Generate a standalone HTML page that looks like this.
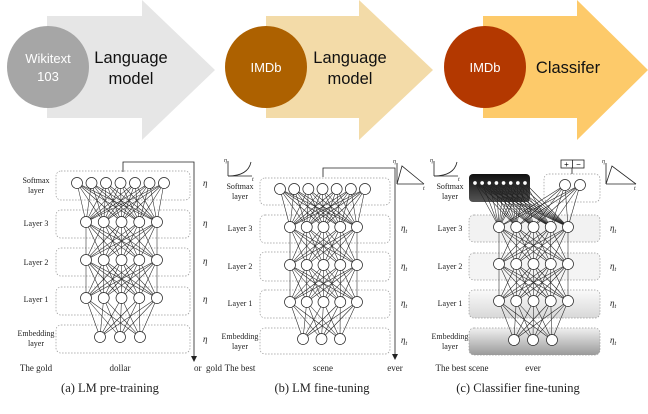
<!DOCTYPE html>
<html><head><meta charset="utf-8"><style>
html,body{margin:0;padding:0;background:#fff;width:648px;height:414px;overflow:hidden}
svg{display:block}
.c{font-family:"Liberation Sans",sans-serif}
.s{font-family:"Liberation Serif",serif;fill:#222}
</style></head><body>
<svg id="sv" width="648" height="414" viewBox="0 0 648 414" xmlns="http://www.w3.org/2000/svg">
<defs>
<linearGradient id="gb" x1="0" y1="0" x2="0" y2="1"><stop offset="0" stop-color="#111"/><stop offset="1" stop-color="#555"/></linearGradient>
<linearGradient id="g1" x1="0" y1="0" x2="0" y2="1"><stop offset="0" stop-color="#fafafa"/><stop offset="1" stop-color="#d8d8d8"/></linearGradient>
<linearGradient id="g2" x1="0" y1="0" x2="0" y2="1"><stop offset="0" stop-color="#f0f0f0"/><stop offset="1" stop-color="#9a9a9a"/></linearGradient>
</defs>
<polygon points="47,16 142,16 142,0 215,70 142,140 142,118 47,118" fill="#e6e6e6"/>
<polygon points="266,16 359,16 359,0 433,70 359,140 359,118 266,118" fill="#f3dba8"/>
<polygon points="483,16 577,16 577,0 648,70 577,140 577,118 483,118" fill="#fdca6a"/>
<circle cx="48" cy="67" r="41" fill="#a6a6a6"/>
<circle cx="266" cy="67" r="41" fill="#ad6100"/>
<circle cx="485" cy="67" r="41" fill="#b33800"/>
<text class="c" x="48" y="63" font-size="13" fill="#fff" text-anchor="middle">Wikitext</text>
<text class="c" x="48" y="81" font-size="13" fill="#fff" text-anchor="middle">103</text>
<text class="c" x="266" y="72" font-size="13" fill="#fff" text-anchor="middle">IMDb</text>
<text class="c" x="485" y="72" font-size="13" fill="#fff" text-anchor="middle">IMDb</text>
<text class="c" x="131" y="63" font-size="16.5" fill="#111" text-anchor="middle">Language</text>
<text class="c" x="131" y="84" font-size="16.5" fill="#111" text-anchor="middle">model</text>
<text class="c" x="350" y="63" font-size="16.5" fill="#111" text-anchor="middle">Language</text>
<text class="c" x="350" y="84" font-size="16.5" fill="#111" text-anchor="middle">model</text>
<text class="c" x="568" y="73" font-size="16.5" fill="#111" text-anchor="middle">Classifer</text>
<g id="net"></g>
<g class="s" font-size="8" text-anchor="middle">
<text x="36" y="183">Softmax</text><text x="36" y="193">layer</text>
<text x="36" y="226">Layer 3</text><text x="36" y="265">Layer 2</text><text x="36" y="302">Layer 1</text>
<text x="36" y="336">Embedding</text><text x="36" y="346">layer</text>
<text x="240" y="189">Softmax</text><text x="240" y="199">layer</text>
<text x="240" y="231">Layer 3</text><text x="240" y="269">Layer 2</text><text x="240" y="306">Layer 1</text>
<text x="240" y="339">Embedding</text><text x="240" y="349">layer</text>
<text x="450" y="189">Softmax</text><text x="450" y="199">layer</text>
<text x="450" y="231">Layer 3</text><text x="450" y="269">Layer 2</text><text x="450" y="306">Layer 1</text>
<text x="450" y="339">Embedding</text><text x="450" y="349">layer</text>
</g>
<g class="s" font-size="9" font-style="italic">
<text x="203" y="186">η</text><text x="203" y="226">η</text><text x="203" y="264">η</text><text x="203" y="302">η</text><text x="203" y="342">η</text>
<text x="401" y="231">η<tspan font-size="6" dy="2">t</tspan></text><text x="401" y="269">η<tspan font-size="6" dy="2">t</tspan></text><text x="401" y="306">η<tspan font-size="6" dy="2">t</tspan></text><text x="401" y="343">η<tspan font-size="6" dy="2">t</tspan></text>
<text x="610" y="231">η<tspan font-size="6" dy="2">t</tspan></text><text x="610" y="269">η<tspan font-size="6" dy="2">t</tspan></text><text x="610" y="306">η<tspan font-size="6" dy="2">t</tspan></text><text x="610" y="343">η<tspan font-size="6" dy="2">t</tspan></text>
</g>
<g class="s" font-size="9">
<text x="36" y="371" text-anchor="middle">The gold</text>
<text x="120" y="371" text-anchor="middle">dollar</text>
<text x="208" y="371" text-anchor="middle">or&#160;&#160;gold</text>
<text x="240" y="371" text-anchor="middle">The best</text>
<text x="323" y="371" text-anchor="middle">scene</text>
<text x="395" y="371" text-anchor="middle">ever</text>
<text x="462" y="371" text-anchor="middle">The best scene</text>
<text x="533" y="371" text-anchor="middle">ever</text>
</g>
<g class="s" font-size="12.5" text-anchor="middle">
<text x="110" y="392">(a) LM pre-training</text>
<text x="322" y="392">(b) LM fine-tuning</text>
<text x="518" y="392">(c) Classifier fine-tuning</text>
</g>
<g fill="none" stroke="#222" stroke-width="0.8">
<path d="M228,176 V161 M228,176 H252"/><path d="M228,176 Q248,176 251,162"/>
<path d="M434,176 V161 M434,176 H458"/><path d="M434,176 Q454,176 457,162"/>
<path d="M397,184 V163 M397,184 H424"/><path d="M397,184 L402,166 L424,184"/>
<path d="M606,184 V163 M606,184 H636"/><path d="M606,184 L612,166 L636,184"/>
<path d="M123,172 V162 H194 V358"/>
<path d="M323,177 V168 H395 V356"/>
<path d="M572,174 V168"/>
</g>
<g fill="#222">
<polygon points="191,356 197,356 194,362"/><polygon points="392,354 398,354 395,360"/>
</g>
<g class="s" font-size="6" font-style="italic">
<text x="224" y="162">η</text><text x="252" y="181">t</text>
<text x="430" y="162">η</text><text x="458" y="181">t</text>
<text x="393" y="163">η</text><text x="423" y="190">t</text>
<text x="602" y="163">η</text><text x="634" y="190">t</text>
</g>
<rect x="561" y="160" width="23" height="8" fill="#fff" stroke="#222" stroke-width="0.8"/>
<line x1="572.5" y1="160" x2="572.5" y2="168" stroke="#222" stroke-width="0.8"/>
<text class="c" x="566.5" y="167" font-size="8" text-anchor="middle">+</text>
<text class="c" x="578.5" y="167" font-size="8" text-anchor="middle">−</text>
</svg>
<script>
var g=document.getElementById('net'),NS='http://www.w3.org/2000/svg';
function el(t,a){var e=document.createElementNS(NS,t);for(var k in a)e.setAttribute(k,a[k]);g.appendChild(e);return e;}
function box(x1,y1,x2,y2,fill){el('rect',{x:x1,y:y1,width:x2-x1,height:y2-y1,rx:5,fill:fill||'none',stroke:'#999','stroke-width':0.7,'stroke-dasharray':'1.5,1.5'});}
function row(n,x1,x2,y){var r=[];for(var i=0;i<n;i++)r.push([n==1?x1:x1+(x2-x1)*i/(n-1),y]);return r;}
function conn(A,B){A.forEach(function(a){B.forEach(function(b){el('line',{x1:a[0],y1:a[1],x2:b[0],y2:b[1],stroke:'#222','stroke-width':0.55});});});}
function nodes(R,r,f){R.forEach(function(p){el('circle',{cx:p[0],cy:p[1],r:r,fill:f||'#fff',stroke:'#222','stroke-width':0.7});});}
[[171,200],[210,238],[248,276],[287,315],[325,353]].forEach(function(b){box(56,b[0],190,b[1]);});
var a0=row(7,77,164,183),a1=row(5,86,157,222),a2=row(5,86,157,260),a3=row(5,86,157,298),a4=row(3,100,140,337);
conn(a1,a0);conn(a2,a1);conn(a3,a2);conn(a4,a3);[a0,a1,a2,a3,a4].forEach(function(R){nodes(R,5.5);});
[[178,205],[215,243],[252,281],[290,318],[328,354]].forEach(function(b){box(260,b[0],390,b[1]);});
var b0=row(7,280,365,189),b1=row(5,290,357,227),b2=row(5,290,357,265),b3=row(5,290,357,302),b4=row(3,303,340,339);
conn(b1,b0);conn(b2,b1);conn(b3,b2);conn(b4,b3);[b0,b1,b2,b3,b4].forEach(function(R){nodes(R,5.5);});
el('rect',{x:469,y:174,width:61,height:28,rx:4,fill:'url(#gb)'});
box(544,174,600,202);
box(469,215,600,242,'#f2f2f2');box(469,253,600,280,'#f4f4f4');box(469,290,600,318,'url(#g1)');box(469,328,600,355,'url(#g2)');
var c0=row(8,475,525,183),cc=row(2,565,580,185),c1=row(5,499,568,227),c2=row(5,499,568,264),c3=row(5,499,568,301),c4=row(3,514,552,340);
conn(c1,c0);conn(c1,cc);conn(c2,c1);conn(c3,c2);conn(c4,c3);
nodes(c0,2.2,'#fff');nodes(cc,5.5);[c1,c2,c3,c4].forEach(function(R){nodes(R,5.5);});
</script>
</body></html>
